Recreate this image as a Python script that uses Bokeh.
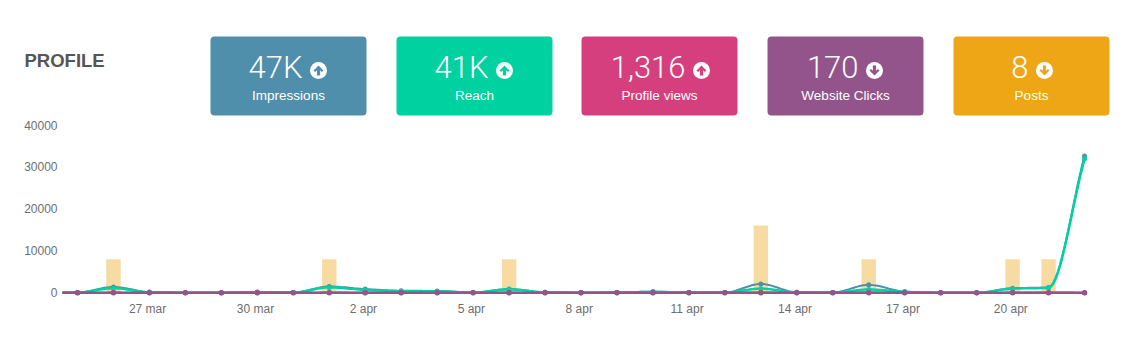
from bokeh.plotting import figure
from bokeh.layouts import column, row
from bokeh.models import Range1d, FixedTicker, BasicTickFormatter, BoxAnnotation
from bokeh.core.properties import value
from bokeh.embed import file_html
from bokeh.resources import INLINE
import numpy as np

# ---- data ----
title = "PROFILE"
card_values = ["47K", "41K", "1,316", "170", "8"]
card_labels = ["Impressions", "Reach", "Profile views", "Website Clicks", "Posts"]
card_trend = ["up", "up", "up", "down", "down"]

days = list(range(-1, 29))  # 24 mar (cut off by the plot's left edge) .. 22 apr
tick_days = [2, 5, 8, 11, 14, 17, 20, 23, 26]
tick_labels = ["27 mar", "30 mar", "2 apr", "5 apr", "8 apr", "11 apr", "14 apr", "17 apr", "20 apr"]
y_ticks = [0, 10000, 20000, 30000, 40000]

impressions = [100, 100, 1400, 200, 50, 50, 200, 100, 1500, 900, 500, 450, 100, 900, 150, 50, 100, 300, 100, 100,
               2100, 150, 100, 1900, 300, 50, 50, 1100, 1300, 32500]
reach = [80, 80, 1100, 150, 40, 40, 150, 80, 1300, 700, 400, 350, 80, 800, 120, 40, 80, 200, 80, 80,
         1000, 120, 80, 800, 250, 40, 40, 1000, 1200, 31800]
profile_views = [10, 10, 60, 20, 5, 5, 20, 10, 70, 40, 30, 30, 10, 50, 20, 10, 10, 30, 10, 10,
                 100, 20, 10, 90, 30, 10, 10, 60, 70, 50]
website_clicks = [2, 2, 8, 3, 1, 1, 3, 2, 10, 6, 4, 4, 2, 7, 3, 2, 2, 4, 2, 2, 12, 3, 2, 10, 4, 2, 2, 8, 9, 6]
posts = [0, 0, 1, 0, 0, 0, 0, 0, 1, 0, 0, 0, 0, 1, 0, 0, 0, 0, 0, 0, 2, 0, 0, 1, 0, 0, 0, 1, 1, 0]

# ---- styles ----
BLUE, GREEN, PINK, PURPLE, ORANGE = "#4f8fab", "#00d1a0", "#d63f7d", "#92548a", "#eea616"
card_colors = [BLUE, GREEN, PINK, PURPLE, ORANGE]
card_left = [210, 396, 581, 767, 953]
card_width = 156
number_right = [302, 488, 685, 858, 1028]
FONT = "Liberation Sans"
TICK_SHIFT = 0.05  # labels sit slightly left of their day in the reference


def monotone(xs, ys, n=16):
    """Monotone cubic path through the data points (the chart's line smoothing)."""
    x = np.asarray(xs, float)
    y = np.asarray(ys, float)
    h = np.diff(x)
    s = np.diff(y) / h
    m = np.zeros_like(y)
    m[0], m[-1] = s[0], s[-1]
    for i in range(1, len(y) - 1):
        if s[i - 1] * s[i] > 0:
            m[i] = 2 * s[i - 1] * s[i] / (s[i - 1] + s[i])
    px, py = [], []
    for i in range(len(h)):
        t = np.linspace(0, 1, n, endpoint=False)
        a = 2 * t**3 - 3 * t**2 + 1
        b = t**3 - 2 * t**2 + t
        c = -2 * t**3 + 3 * t**2
        d = t**3 - t**2
        px.extend(x[i] + t * h[i])
        py.extend(a * y[i] + b * h[i] * m[i] + c * y[i + 1] + d * h[i] * m[i + 1])
    px.append(x[-1])
    py.append(y[-1])
    return px, py


# ---- header: coordinates equal page pixels ----
head = figure(width=1117, height=120, output_backend="svg", toolbar_location=None,
              x_range=Range1d(0, 1117), y_range=Range1d(120, 0), min_border=0)
head.axis.visible = False
head.grid.visible = False
head.outline_line_color = None

head.text([24], [60], text=[title], text_font=value(FONT), text_font_style="bold",
          text_font_size="18.5px", text_color="#555555", text_align="left", text_baseline="middle")

for i, left in enumerate(card_left):
    color = card_colors[i]
    head.add_layout(BoxAnnotation(left=left, right=left + card_width, top=36, bottom=115,
                                  fill_color=color, fill_alpha=1, line_alpha=0,
                                  border_radius=4, level="underlay"))
    head.text([number_right[i]], [66.5], text=[card_values[i]], text_font=value("Roboto Light"),
              text_font_size="31px", text_color="white", text_align="right", text_baseline="middle")
    head.text([left + card_width / 2], [95], text=[card_labels[i]], text_font=value(FONT),
              text_font_size="13.5px", text_color="white", text_align="center", text_baseline="middle")
    cx, cy = number_right[i] + 16, 70
    head.scatter([cx], [cy], size=17, marker="circle", fill_color="white", line_color=None)
    d = -1 if card_trend[i] == "up" else 1
    ax = [0, 5, 3.4, 1.6, 1.6, -1.6, -1.6, -3.4, -5]
    ay = [5, 0, -1.6, 0.2, -5, -5, 0.2, -1.6, 0]
    head.patch([cx + v for v in ax], [cy + d * v for v in ay], fill_color=color, line_color=None)

# ---- chart ----
p = figure(width=1117, height=217, output_backend="svg", toolbar_location=None,
           x_range=Range1d(-0.4167, 28.11), y_range=Range1d(-1100, 40900),
           min_border_left=62, min_border_right=29, min_border_top=0, min_border_bottom=40)
p.grid.visible = False
p.outline_line_color = None
p.extra_y_ranges = {"posts": Range1d(-0.1375, 5.1125)}

tick_pos = [round(t - TICK_SHIFT, 3) for t in tick_days]
p.yaxis.ticker = FixedTicker(ticks=y_ticks)
p.yaxis.formatter = BasicTickFormatter(use_scientific=False)
p.xaxis.ticker = FixedTicker(ticks=tick_pos)
p.xaxis.major_label_overrides = dict(zip(tick_pos, tick_labels))
for ax_ in (p.xaxis[0], p.yaxis[0]):
    ax_.axis_line_color = None
    ax_.major_tick_line_color = None
    ax_.minor_tick_line_color = None
    ax_.major_tick_out = 0
    ax_.major_tick_in = 0
    ax_.major_label_text_color = "#6e6e6e"
    ax_.major_label_text_font = FONT
    ax_.major_label_text_font_size = "12px"
p.xaxis[0].major_label_standoff = 4
p.yaxis[0].major_label_standoff = 5

p.vbar(x=days, top=posts, bottom=0, width=0.4, y_range_name="posts",
       fill_color=ORANGE, fill_alpha=0.4, line_color=None)

for series, color, lw, ms in [(impressions, BLUE, 2, 5), (reach, GREEN, 2.5, 5), (profile_views, PINK, 2, 5),
                              (website_clicks, PURPLE, 2.5, 5.5)]:
    lx, ly = monotone(days, series)
    p.line(lx, ly, line_color=color, line_width=lw)
    p.scatter(days, series, size=ms, marker="circle", fill_color=color, line_color=None)

layout = column(row(head), row(p), spacing=0)
open("out.html", "w").write(file_html(layout, INLINE))
